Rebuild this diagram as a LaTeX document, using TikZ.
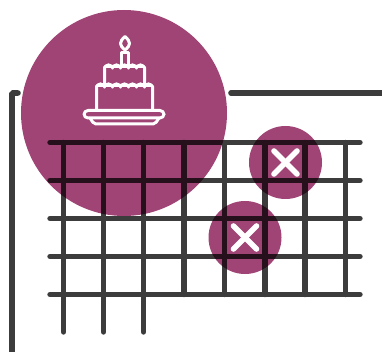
\documentclass[tikz,border=0pt]{standalone}
\usetikzlibrary{positioning, calc}

\definecolor{plum}{HTML}{9F4474}
\definecolor{gridgrey}{HTML}{3C3C3C}

\tikzset{
  spot/.style={circle, fill=plum, inner sep=0pt, minimum size=#1},
  gridline/.style={draw=gridgrey, line width=5.4pt, line cap=round},
  frameline/.style={draw=gridgrey, line width=5.6pt, line cap=round, rounded corners=1pt},
  icon/.style={draw=white, line width=3pt, line cap=round, line join=round},
  cross/.style={draw=white, line width=5.6pt, line cap=round}
}

\begin{document}
\begin{tikzpicture}[x=1pt, y=-1pt]
  \useasboundingbox (0,0) rectangle (382,352);
  % frame
  \coordinate (fa) at (12,356);
  \coordinate (fb) at (12,93);
  \coordinate (fc) at (18,93);
  \coordinate (fd) at (231,93);
  \coordinate (fe) at (386,93);
  \draw[frameline] (fa) -- (fb) -- (fc);
  \draw[frameline] (fd) -- (fe);
  % grid
  \foreach \y in {142.5,180.5,218.5,256.5,294.5}
    \draw[gridline] (50,\y) -- (360,\y);
  \foreach \x in {63.5,103.5,143.5}
    \draw[gridline] (\x,142.5) -- (\x,332);
  \foreach \x in {184,224.5,265,305,345.5}
    \draw[gridline] (\x,142.5) -- (\x,294.5);
  % spots
  \begin{scope}[blend mode=multiply]
    \node[spot=206pt] (cake) at (124,113) {};
    \node[spot=73pt] (spota) at (285.5,162.5) {};
    \node[spot=73pt] (spotb) at (245,237.5) {};
  \end{scope}
  % crosses
  \draw[cross] ($(spota)+(-11.5,-11.5)$) -- ($(spota)+(11.5,11.5)$);
  \draw[cross] ($(spota)+(-11.5,11.5)$) -- ($(spota)+(11.5,-11.5)$);
  \draw[cross] ($(spotb)+(-11.5,-11.5)$) -- ($(spotb)+(11.5,11.5)$);
  \draw[cross] ($(spotb)+(-11.5,11.5)$) -- ($(spotb)+(11.5,-11.5)$);
  % cake
  \draw[icon] (125,36.5) .. controls (119,42) and (119,45) .. (125,50)
              .. controls (131,45) and (131,42) .. (125,36.5) -- cycle;
  \draw[icon] (121.5,65) -- (121.5,52.5) -- (128,52.5) -- (128,65);
  \draw[icon, rounded corners=1pt] (104.5,84) -- (104.5,66.5) -- (144.5,66.5) -- (144.5,84);
  \draw[icon, line width=2.2pt] (104.5,68.5) \foreach \i in {0,...,4} {
      arc[start angle=180, end angle=360, radius=4] } ;
  \draw[icon, rounded corners=1pt] (96.5,110) -- (96.5,85.5) -- (152.5,85.5) -- (152.5,110);
  \draw[icon, line width=2.2pt] (96.5,87.5) \foreach \i in {0,...,6} {
      arc[start angle=180, end angle=360, radius=4] } ;
  \draw[icon, rounded corners=4pt] (84,110.5) rectangle (164,118);
  \draw[icon, rounded corners=2pt] (90,118) -- (94,124) -- (155,124) -- (159,118);
\end{tikzpicture}
\end{document}
